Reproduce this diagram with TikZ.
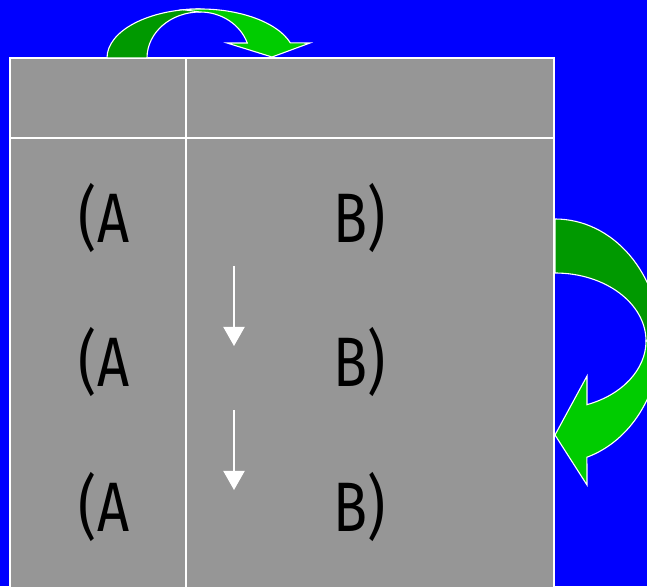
\documentclass[tikz,border=0pt]{standalone}
\usepackage{fontspec}
\usetikzlibrary{arrows.meta,calc}
\newfontfamily\cellfont[FakeStretch=0.8]{Fira Sans}
\definecolor{slideblue}{HTML}{0000FF}
\definecolor{cellgray}{HTML}{969696}
\definecolor{bandback}{HTML}{009900}
\definecolor{bandfront}{HTML}{00CC00}

\begin{document}
\begin{tikzpicture}[
  x=1pt, y=1pt,
  grid/.style={draw=white, line width=1.4pt},
  cell/.style={anchor=base, inner sep=0pt, font=\cellfont\fontsize{70}{84}\selectfont},
  band/.style={draw=white, line width=1.1pt, line join=miter},
  down/.style={-{Triangle[length=19pt,width=21pt]}, draw=white, line width=2pt}
]
\useasboundingbox (0,0) rectangle (647,586);
\clip (0,0) rectangle (647,586);
\fill[slideblue] (0,0) rectangle (647,586);

% table
\fill[cellgray] (10,-5) rectangle (554,528);
\draw[grid] (10,-5) -- (10,528) -- (554,528) -- (554,-5);
\draw[grid] (10,448) -- (554,448);
\draw[grid] (186,-5) -- (186,528);

% rows
\node[cell] (a1) at (104,343) {(A};
\node[cell] (b1) at (360,343) {B)};
\node[cell] (a2) at (104,199) {(A};
\node[cell] (b2) at (360,199) {B)};
\node[cell] (a3) at (104,55) {(A};
\node[cell] (b3) at (360,55) {B)};

\coordinate (s1) at (234,320);
\coordinate (e1) at (234,240);
\coordinate (s2) at (234,176);
\coordinate (e2) at (234,96);
\draw[down] (s1) -- (e1);
\draw[down] (s2) -- (e2);

% curved arrow over the header
\coordinate (tc) at (200,528);
\filldraw[band, fill=bandback] (107,528) arc[start angle=180, end angle=90, x radius=93, y radius=49]
  -- (200,574) arc[start angle=90, end angle=180, x radius=53, y radius=46] -- cycle;
\filldraw[band, fill=bandfront] ($(tc)+(100:95 and 49)$)
  arc[start angle=100, end angle=18, x radius=95, y radius=49]
  -- (310,543) -- (272,529) -- (227,543)
  -- ($(tc)+(19:50 and 46)$) arc[start angle=19, end angle=90, x radius=50, y radius=46] -- cycle;

% curved arrow on the right side
\coordinate (rc) at (555,245);
\filldraw[band, fill=bandback] (555,367) arc[start angle=90, end angle=0, x radius=105, y radius=122]
  -- (646,245) arc[start angle=0, end angle=90, x radius=91, y radius=68] -- cycle;
\filldraw[band, fill=bandfront] ($(rc)+(0:105 and 122)$)
  arc[start angle=0, end angle=-72.3, x radius=105, y radius=122]
  -- (587,101) -- (555,151) -- (587,210)
  -- ($(rc)+(-69.4:91 and 68)$) arc[start angle=-69.4, end angle=0, x radius=91, y radius=68] -- cycle;
\end{tikzpicture}
\end{document}
